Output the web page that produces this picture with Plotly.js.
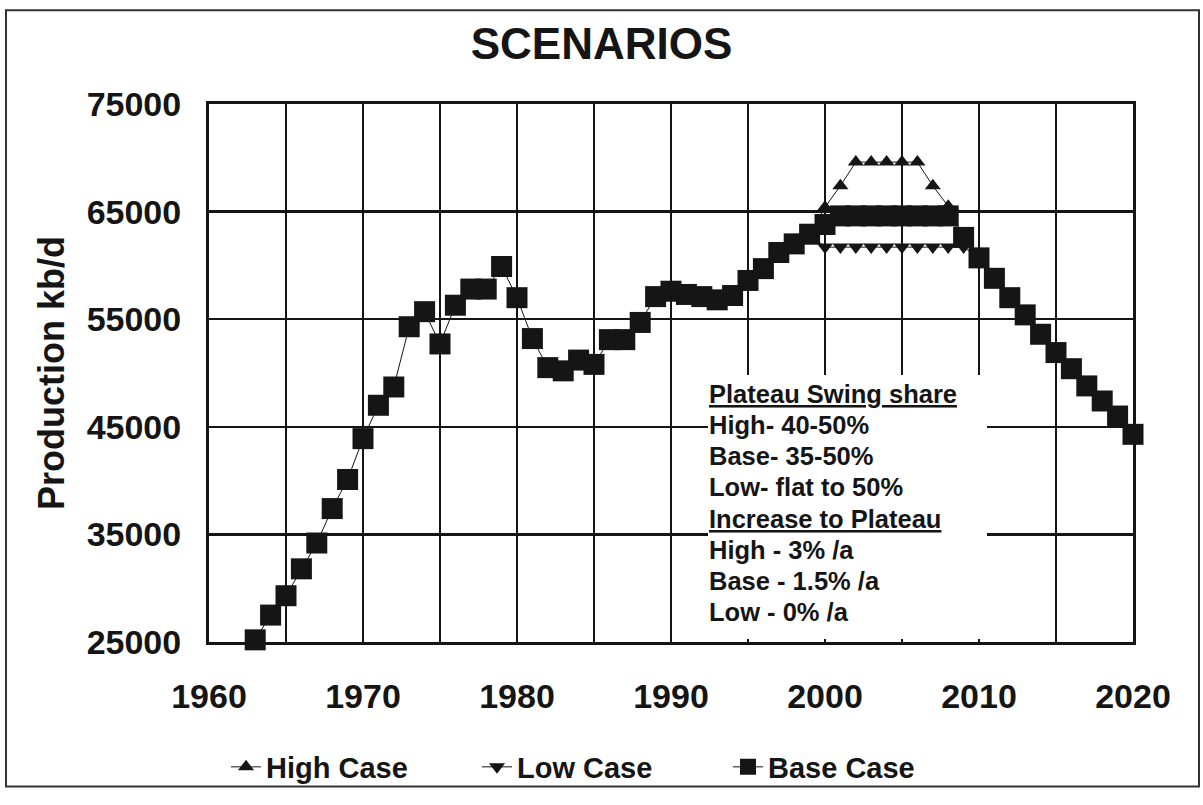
<!DOCTYPE html>
<html><head><meta charset="utf-8">
<script src="https://cdn.plot.ly/plotly-3.0.1.min.js"></script>
<style>html,body{margin:0;padding:0;background:#fff}#chart{width:1203px;height:805px}</style>
</head><body><div id="chart"></div>
<script>
const baseYears = [1963,1964,1965,1966,1967,1968,1969,1970,1971,1972,1973,1974,1975,1976,1977,1978,1979,1980,1981,1982,1983,1984,1985,1986,1987,1988,1989,1990,1991,1992,1993,1994,1995,1996,1997,1998,1999,2000,2001,2002,2003,2004,2005,2006,2007,2008,2009,2010,2011,2012,2013,2014,2015,2016,2017,2018,2019,2020];
const baseValues = [25200,27500,29300,31800,34200,37400,40100,43900,47000,48700,54300,55700,52700,56300,57800,57800,59900,57000,53200,50500,50200,51200,50800,53100,53100,54700,57100,57600,57300,57100,56800,57200,58600,59700,61200,62000,62900,63800,64600,64600,64600,64600,64600,64600,64600,64600,62600,60700,58800,57000,55400,53600,51900,50400,48800,47400,46000,44300];
const highYears = [1999,2000,2001,2002,2003,2004,2005,2006,2007,2008,2009];
const highValues = [62900,65400,67400,69600,69600,69600,69600,69600,67400,65500,62600];
const lowYears = [1999,2000,2001,2002,2003,2004,2005,2006,2007,2008,2009,2010];
const lowValues = [62900,61700,61700,61700,61700,61700,61700,61700,61700,61700,61700,60700];
const seriesNames = ['High Case','Low Case','Base Case'];
const chartTitle = 'SCENARIOS';
const yTitle = 'Production kb/d';
const noteLines = ['<u>Plateau Swing share</u>','High- 40-50%','Base- 35-50%','Low- flat to 50%','<u>Increase to Plateau</u>','High - 3% /a','Base - 1.5% /a','Low - 0% /a'];

const INK = '#151515';
const FONT = 'Liberation Sans, Arial, sans-serif';

const traces = [
  {x: highYears, y: highValues, name: seriesNames[0], type: 'scatter', mode: 'lines+markers', cliponaxis: false,
   line: {color: INK, width: 1}, marker: {symbol: 'triangle-up', size: 14, color: INK}},
  {x: lowYears, y: lowValues, name: seriesNames[1], type: 'scatter', mode: 'lines+markers', cliponaxis: false,
   line: {color: INK, width: 1}, marker: {symbol: 'triangle-down', size: 14, color: INK}},
  {x: baseYears, y: baseValues, name: seriesNames[2], type: 'scatter', mode: 'lines+markers', cliponaxis: false,
   line: {color: INK, width: 1}, marker: {symbol: 'square', size: 21, color: INK}}
];

const L = 209, R = 1133, T = 104, B = 655, W = 1203, H = 805;
const pw = R - L, ph = B - T;
const px = v => (v - L) / pw;
const py = v => (B - v) / ph;

const noteCenters = [401, 433, 464, 496, 529, 561, 593, 624];
const annotations = [{
  text: ' ', xref: 'paper', yref: 'paper', x: px(708), y: py(382), xanchor: 'left', yanchor: 'top',
  width: 279, height: 264, bgcolor: '#fff', borderpad: 0, borderwidth: 0, showarrow: false
}].concat(noteLines.map((t, i) => ({
  text: t, xref: 'paper', yref: 'paper', x: px(707), y: py(noteCenters[i]),
  xanchor: 'left', yanchor: 'middle', showarrow: false,
  font: {family: FONT, size: 25.5, color: INK, weight: 'bold'}
})));

const layout = {
  width: W, height: H,
  margin: {l: L, r: W - R, t: T, b: H - B, pad: 0},
  paper_bgcolor: '#fff', plot_bgcolor: '#fff',
  showlegend: true,
  title: {text: '<b>' + chartTitle + '</b>', x: 0.5, xref: 'container', y: 1 - 44 / H, yref: 'container', yanchor: 'middle',
          font: {family: FONT, size: 44, color: INK}},
  xaxis: {range: [1960, 2020], dtick: 10, tick0: 1960, showgrid: true, gridcolor: INK, gridwidth: 2.5,
          minor: {dtick: 5, tick0: 1960, showgrid: true, gridcolor: INK, gridwidth: 2.5},
          showline: true, linecolor: INK, linewidth: 3, mirror: true, zeroline: false,
          ticks: 'outside', ticklen: 22, tickcolor: 'rgba(0,0,0,0)',
          tickfont: {family: FONT, size: 34, color: INK, weight: 'bold'}, fixedrange: true},
  yaxis: {range: [25000, 75000], dtick: 10000, tick0: 25000, tickformat: 'd', showgrid: true, gridcolor: INK, gridwidth: 2.5,
          showline: true, linecolor: INK, linewidth: 3, mirror: true, zeroline: false,
          ticks: 'outside', ticklen: 18, tickcolor: 'rgba(0,0,0,0)',
          tickfont: {family: FONT, size: 34, color: INK, weight: 'bold'},
          title: {text: '<b>' + yTitle + '</b>', standoff: 12, font: {family: FONT, size: 36, color: INK}}, fixedrange: true},
  legend: {orientation: 'h', x: px(226), xanchor: 'left', y: py(783), yanchor: 'middle',
           entrywidth: 206, entrywidthmode: 'pixels',
           font: {family: FONT, size: 29, color: INK, weight: 'bold'}, bgcolor: 'rgba(0,0,0,0)'},
  shapes: [
    {type: 'rect', xref: 'paper', yref: 'paper', x0: px(6), x1: px(1199), y0: py(803), y1: py(8),
     fillcolor: 'rgba(0,0,0,0)', line: {color: '#333', width: 2}, layer: 'above'}
  ],
  annotations: annotations
};

Plotly.newPlot('chart', traces, layout, {displayModeBar: false, staticPlot: true});
</script></body></html>
